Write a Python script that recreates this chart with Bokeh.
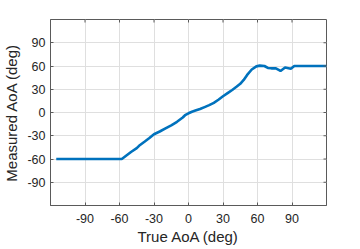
from bokeh.plotting import figure
from bokeh.models import FixedTicker, Range1d
from bokeh.embed import file_html
from bokeh.resources import INLINE

# Data
true_aoa = [-115, -100, -80, -58, -50, -45, -43, -38, -34, -30, -25, -20, -15, -10, -5, -3,
            0, 3, 6, 10, 14, 18, 22, 26, 30, 34, 38, 42, 45, 48, 51, 55, 59, 62, 66, 69,
            72, 76, 80, 84, 86, 89, 92, 95, 100, 110, 120]
measured_aoa = [-60, -60, -60, -60, -51, -46, -43, -37.5, -33, -28, -24.5, -20.5, -16.5, -12, -6.5, -3.5,
                -1, 1, 2.5, 4.5, 7, 9.5, 12.5, 16.5, 21, 25, 29, 33.5, 37, 42, 48.5, 55.5, 59.5, 60.5, 60, 57.5,
                57, 57, 53.6, 58, 57.5, 56.5, 60, 60, 60, 60, 60]
tick_values = [-90, -60, -30, 0, 30, 60, 90]
tick_labels = ["-90", "-60", "-30", "0", "30", "60", "90"]
axis_min, axis_max = -120, 120
x_label = "True AoA (deg)"
y_label = "Measured AoA (deg)"

AX = "#5a5a5a"
TXT = "#262626"
FONT = "Liberation Sans"

p = figure(width=360, height=249, output_backend="svg", toolbar_location=None,
           x_range=Range1d(axis_min, axis_max), y_range=Range1d(axis_min, axis_max),
           min_border_left=48, min_border_right=34, min_border_top=19, min_border_bottom=44,
           x_axis_label=x_label, y_axis_label=y_label)
p.outline_line_color = AX
p.outline_line_width = 1
p.background_fill_color = "white"
p.border_fill_color = "white"

for g in (p.xgrid, p.ygrid):
    g.ticker = FixedTicker(ticks=tick_values)
    g.grid_line_color = "#dfdfdf"
    g.grid_line_width = 1

p.line(true_aoa, measured_aoa, line_color="#0072BD", line_width=2.6)

# inward tick marks on the top and right edges of the box
n = len(tick_values)
p.ray(x=tick_values, y=[axis_max] * n, length=3, length_units="screen",
      angle=-90, angle_units="deg", line_color=AX, line_width=1)
p.ray(x=[axis_max] * n, y=tick_values, length=3, length_units="screen",
      angle=180, angle_units="deg", line_color=AX, line_width=1)

overrides = dict(zip(tick_values, tick_labels))
for ax in p.axis:
    ax.ticker = FixedTicker(ticks=tick_values)
    ax.major_label_overrides = overrides
    ax.axis_line_color = AX
    ax.axis_line_width = 1
    ax.major_tick_line_color = AX
    ax.major_tick_in = 3
    ax.major_tick_out = 0
    ax.minor_tick_line_color = None
    ax.major_label_text_font = FONT
    ax.major_label_text_font_size = "12.5px"
    ax.major_label_text_color = TXT
    ax.axis_label_text_font = FONT
    ax.axis_label_text_font_size = "15px"
    ax.axis_label_text_font_style = "normal"
    ax.axis_label_text_color = TXT

p.xaxis[0].major_label_standoff = 8
p.xaxis[0].axis_label_standoff = 2
p.yaxis[0].major_label_standoff = 5
p.yaxis[0].axis_label_standoff = 4

open("out.html", "w").write(file_html(p, INLINE))
